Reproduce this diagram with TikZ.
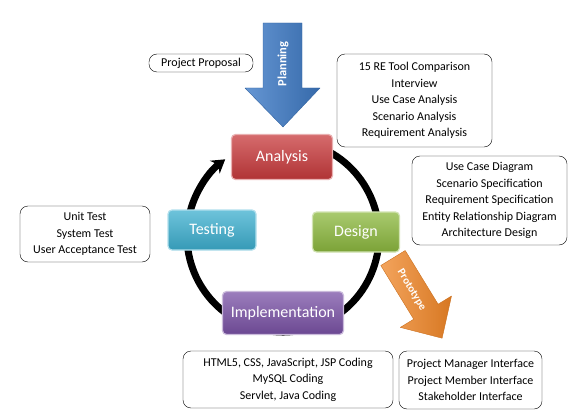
\documentclass[tikz,border=0pt]{standalone}
\usepackage{fontspec}
\setmainfont{Carlito}
\usetikzlibrary{arrows.meta}
\definecolor{anaRed}{HTML}{C83A3C}
\definecolor{tstCyan}{HTML}{3DAFCF}
\definecolor{desGreen}{HTML}{8CB83E}
\definecolor{impPurple}{HTML}{7A52A6}
\definecolor{planBlue}{HTML}{3F7CC8}
\definecolor{protoOrange}{HTML}{EF8526}
\begin{document}
\begin{tikzpicture}[x=1pt,y=-1pt,line join=round,
	stage/.style={rounded corners=4pt,draw=white!60!#1,line width=1.2pt,
		top color=white!25!#1,bottom color=black!12!#1,
		text=white,font=\fontsize{16}{18}\selectfont,inner sep=0pt},
	info/.style={draw,rounded corners=8pt,align=center,inner sep=0pt,
		font=\fontsize{12}{16.5}\selectfont}]
	\useasboundingbox (0,0) rectangle (583,417);
	% cycle
	\draw[line width=7pt,-{Stealth[length=13pt,width=16pt]}] (283,236) ++(-70:96) arc[start angle=-70,end angle=233,radius=96];
	% stages
	\node[stage=anaRed,minimum width=101pt,minimum height=45pt] (ana) at (282,157) {Analysis};
	\node[stage=desGreen,minimum width=87pt,minimum height=40pt] (des) at (356,232) {Design};
	\node[stage=tstCyan,minimum width=88pt,minimum height=40pt] (tst) at (212,230) {Testing};
	\node[stage=impPurple,minimum width=121pt,minimum height=43pt] (imp) at (283,313) {Implementation};
	% planning arrow
	\draw[draw=planBlue!80!black,left color=planBlue!80!white,right color=planBlue!85!black]
		(263,23)--(302,23)--(302,88)--(320,88)--(283,127)--(245,88)--(263,88)--cycle;
	\node[rotate=90,text=white,font=\bfseries\fontsize{12.5}{14}\selectfont] (plan) at (283,64) {Planning};
	% prototype arrow
	\draw[draw=protoOrange!85!black,left color=protoOrange!75!white,right color=protoOrange!90!black]
		(405.2,250.5)--(438.1,304.2)--(451.5,296.0)--(442.1,338.2)--(400.3,327.4)--(413.7,319.2)--(380.8,265.5)--cycle;
	\node[rotate=-58.5,text=white,font=\bfseries\fontsize{11}{13}\selectfont] (proto) at (411.5,290) {Prototype};
	% notes
	\node[info,minimum width=104pt,minimum height=18pt] (prop) at (201,63) {Project Proposal};
	\node[info,minimum width=155pt,minimum height=93pt] (reNote) at (414.5,100.5)
		{15 RE Tool Comparison\\Interview\\Use Case Analysis\\Scenario Analysis\\Requirement Analysis};
	\node[info,minimum width=155pt,minimum height=89pt] (desNote) at (489.5,200.5)
		{Use Case Diagram\\Scenario Specification\\Requirement Specification\\Entity Relationship Diagram\\Architecture Design};
	\node[info,minimum width=130pt,minimum height=56pt] (tstNote) at (85,234)
		{Unit Test\\System Test\\User Acceptance Test};
	\node[info,minimum width=210pt,minimum height=57pt] (impNote) at (288,379.5)
		{HTML5, CSS, JavaScript, JSP Coding\\MySQL Coding\\Servlet, Java Coding};
	\node[info,minimum width=143pt,minimum height=58pt] (protoNote) at (470.5,380)
		{Project Manager Interface\\Project Member Interface\\Stakeholder Interface};
\end{tikzpicture}
\end{document}
